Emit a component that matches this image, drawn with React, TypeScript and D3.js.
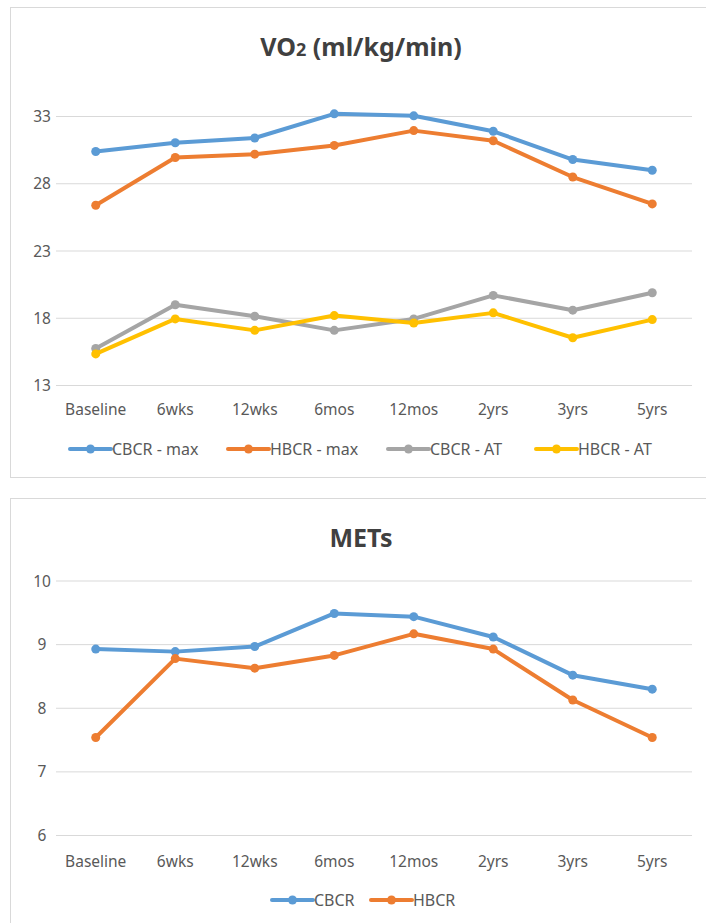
import React from "react";
import * as d3 from "d3";

const categories = ["Baseline", "6wks", "12wks", "6mos", "12mos", "2yrs", "3yrs", "5yrs"];

const vo2Ticks = [13, 18, 23, 28, 33];
const cbcrMax = [30.4, 31.05, 31.4, 33.2, 33.05, 31.9, 29.8, 29.0];
const hbcrMax = [26.4, 29.95, 30.2, 30.85, 31.95, 31.2, 28.5, 26.5];
const cbcrAT = [15.75, 19.0, 18.15, 17.1, 17.95, 19.7, 18.6, 19.9];
const hbcrAT = [15.35, 17.95, 17.1, 18.2, 17.65, 18.4, 16.55, 17.9];

const metsTicks = [6, 7, 8, 9, 10];
const metsCBCR = [8.93, 8.89, 8.97, 9.49, 9.44, 9.12, 8.52, 8.3];
const metsHBCR = [7.54, 8.78, 8.63, 8.83, 9.17, 8.93, 8.13, 7.54];

const BLUE = "#5B9BD5";
const ORANGE = "#ED7D31";
const GRAY = "#A5A5A5";
const YELLOW = "#FFC000";

const FONT = "'Noto Sans', 'Open Sans', sans-serif";

type Series = { name: string; values: number[]; color: string; legendX: number };

function LineChart(props: {
  boxY: number;
  boxH: number;
  titleY: number;
  title: React.ReactNode;
  ticks: number[];
  yTop: number;
  yBottom: number;
  catY: number;
  legendY: number;
  series: Series[];
}) {
  const { ticks, series } = props;
  const x = d3.scaleBand<string>().domain(categories).range([56, 692]);
  const y = d3
    .scaleLinear()
    .domain([ticks[0], ticks[ticks.length - 1]])
    .range([props.yBottom, props.yTop]);
  const line = d3
    .line<number>()
    .x((_, i) => (x(categories[i]) as number) + x.bandwidth() / 2)
    .y((v) => y(v));
  return (
    <g>
      <rect x={10.5} y={props.boxY + 0.5} width={720} height={props.boxH} fill="#fff" stroke="#d9d9d9" strokeWidth={1} />
      <text x={361} y={props.titleY} textAnchor="middle" fontFamily={FONT} fontWeight="bold" fontSize={25} fill="#404040">
        {props.title}
      </text>
      {ticks.map((t) => (
        <g key={t}>
          <line x1={56} x2={692} y1={y(t)} y2={y(t)} stroke="#d9d9d9" strokeWidth={1} />
          <text x={42} y={y(t) + 5.5} textAnchor="middle" fontFamily={FONT} fontSize={15.5} fill="#595959">
            {t}
          </text>
        </g>
      ))}
      {categories.map((c) => (
        <text key={c} x={(x(c) as number) + x.bandwidth() / 2} y={props.catY} textAnchor="middle" fontFamily={FONT} fontSize={15.5} fill="#595959">
          {c}
        </text>
      ))}
      {series.map((s) => (
        <g key={s.name}>
          <path d={line(s.values) || ""} fill="none" stroke={s.color} strokeWidth={4} strokeLinejoin="round" strokeLinecap="round" />
          {s.values.map((v, i) => (
            <circle key={i} cx={(x(categories[i]) as number) + x.bandwidth() / 2} cy={y(v)} r={4.5} fill={s.color} />
          ))}
        </g>
      ))}
      {series.map((s) => (
        <g key={"lg" + s.name}>
          <line x1={s.legendX} x2={s.legendX + 41} y1={props.legendY} y2={props.legendY} stroke={s.color} strokeWidth={4} strokeLinecap="round" />
          <circle cx={s.legendX + 20.5} cy={props.legendY} r={4.5} fill={s.color} />
          <text x={s.legendX + 42} y={props.legendY + 5.5} fontFamily={FONT} fontSize={16} fill="#595959">
            {s.name}
          </text>
        </g>
      ))}
    </g>
  );
}

export default function App() {
  return (
    <svg width={706} height={923} style={{ position: "absolute", left: 0, top: 0, background: "#fff" }}>
      <rect width={706} height={923} fill="#fff" />
      <LineChart
        boxY={7}
        boxH={470}
        titleY={56}
        title={
          <>
            VO<tspan fontSize={18}>2</tspan> (ml/kg/min)
          </>
        }
        ticks={vo2Ticks}
        yTop={116.5}
        yBottom={385.5}
        catY={415}
        legendY={449}
        series={[
          { name: "CBCR - max", values: cbcrMax, color: BLUE, legendX: 70 },
          { name: "HBCR - max", values: hbcrMax, color: ORANGE, legendX: 228 },
          { name: "CBCR - AT", values: cbcrAT, color: GRAY, legendX: 388 },
          { name: "HBCR - AT", values: hbcrAT, color: YELLOW, legendX: 536 },
        ]}
      />
      <LineChart
        boxY={498}
        boxH={440}
        titleY={547}
        title="METs"
        ticks={metsTicks}
        yTop={581}
        yBottom={835.5}
        catY={867}
        legendY={900}
        series={[
          { name: "CBCR", values: metsCBCR, color: BLUE, legendX: 272 },
          { name: "HBCR", values: metsHBCR, color: ORANGE, legendX: 371 },
        ]}
      />
    </svg>
  );
}
